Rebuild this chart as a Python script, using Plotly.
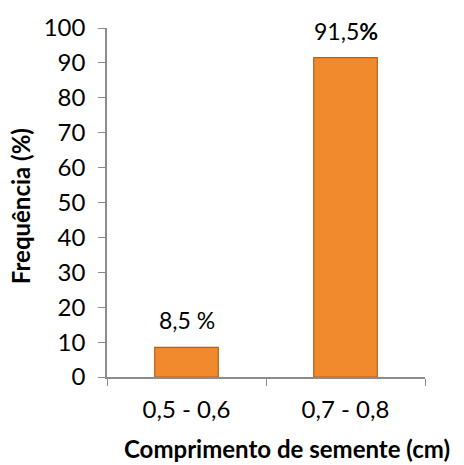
import plotly.graph_objects as go

# Seed length classes and their relative frequency (%)
categories = ["0,5 - 0,6", "0,7 - 0,8"]
frequencies = [8.5, 91.5]
value_labels = ["8,5 %", "91,5<b>%</b>"]
y_ticks = list(range(0, 101, 10))

FONT = "Lato"
AXIS_GRAY = "#8c8c8c"

fig = go.Figure()
fig.add_trace(go.Bar(
    x=categories,
    y=frequencies,
    width=0.4,
    marker=dict(color="#f08a2c", line=dict(color="#b5611c", width=1.2)),
    hoverinfo="skip",
))

# Value labels above each bar
for cat, val, lab in zip(categories, frequencies, value_labels):
    fig.add_annotation(x=cat, y=val, text=lab, showarrow=False,
                       yanchor="bottom", yshift=11,
                       font=dict(family=FONT, size=23, color="#000"))

# Axis titles
fig.add_annotation(xref="paper", yref="paper", x=0.566, y=-0.205,
                   text="<b>Comprimento de semente (cm)</b>", showarrow=False,
                   xanchor="center", yanchor="middle",
                   font=dict(family=FONT, size=24, color="#000"))
fig.add_annotation(xref="paper", yref="paper", x=-0.27, y=0.49,
                   text="<b>Frequência (%)</b>", showarrow=False, textangle=-90,
                   xanchor="center", yanchor="middle",
                   font=dict(family=FONT, size=24, color="#000"))

fig.update_layout(
    width=464, height=465,
    margin=dict(l=107, r=39, t=26, b=88),
    paper_bgcolor="white", plot_bgcolor="white",
    showlegend=False,
    bargap=0.6,
)
fig.update_xaxes(
    type="category",
    showline=True, linecolor=AXIS_GRAY, linewidth=1.5,
    ticks="outside", tickson="boundaries", ticklen=7, tickcolor=AXIS_GRAY,
    ticklabelstandoff=10,
    tickfont=dict(family=FONT, size=24, color="#000"),
    showgrid=False, zeroline=False,
)
fig.update_yaxes(
    range=[0, 100],
    tickvals=y_ticks,
    showline=True, linecolor=AXIS_GRAY, linewidth=1.5,
    ticks="outside", ticklen=7, tickcolor=AXIS_GRAY,
    ticklabelstandoff=8,
    tickfont=dict(family=FONT, size=24, color="#000"),
    showgrid=False, zeroline=False,
)

fig.write_html("out.html")
